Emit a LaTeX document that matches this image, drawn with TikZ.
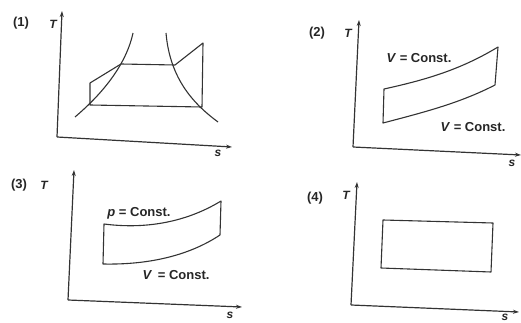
\documentclass[tikz,border=0pt]{standalone}
\usepackage{fontspec}
\setmainfont{Liberation Sans}
\usetikzlibrary{arrows.meta}
\begin{document}
\begin{tikzpicture}[x=1pt,y=-1pt,
  ink/.style={draw=black!80,line width=1.1pt,line join=round},
  axis/.style={draw=black!80,line width=1.2pt,-{Stealth[length=6pt,width=4pt]}},
  lbl/.style={font=\fontsize{13}{14}\selectfont\bfseries,text=black!85,inner sep=0pt},
  num/.style={font=\fontsize{13}{14}\selectfont\bfseries,text=black!85,inner sep=0pt},
  var/.style={font=\fontsize{12}{13}\selectfont\bfseries\itshape,text=black!85,inner sep=0pt}]
\useasboundingbox (0,0) rectangle (521,323);
% ---------- (1)
\node[num] (n1) at (21,23) {(1)};
\node[var] (t1) at (53,24) {T};
\coordinate (o1) at (57,137);
\draw[axis] (o1) -- (62,11);
\draw[axis] (o1) -- (232,147);
\node[var] (s1) at (218,153) {s};
\draw[ink] (75,117) .. controls (95,100) and (125,70) .. (133,33);
\draw[ink] (166,33) .. controls (170,80) and (195,105) .. (218,122);
\draw[ink] (90,105) -- (90,83) -- (121,64) -- (175,65) -- (203,43) -- (202,107) -- cycle;
% ---------- (2)
\node[num] (n2) at (317,33) {(2)};
\node[var] (t2) at (348,33) {T};
\coordinate (o2) at (353,147);
\draw[axis] (o2) -- (359,20);
\draw[axis] (o2) -- (521,155);
\node[var] (s2) at (512,163) {s};
\draw[ink] (383,123) -- (384,89) .. controls (425,80) and (460,70) .. (498,47) -- (495,85)
  .. controls (460,103) and (425,112) .. cycle;
\node[lbl] (v2a) at (419,58) {\textit{V} = Const.};
\node[lbl] (v2b) at (473,127) {\textit{V} = Const.};
% ---------- (3)
\node[num] (n3) at (19,185) {(3)};
\node[var] (t3) at (44,185) {T};
\coordinate (o3) at (68,300);
\draw[axis] (o3) -- (74,170);
\draw[axis] (o3) -- (242,307);
\node[var] (s3) at (230,315) {s};
\draw[ink] (103,264) -- (104,224) .. controls (150,230) and (190,220) .. (221,201) -- (220,235)
  .. controls (190,255) and (150,265) .. cycle;
\node[lbl] (p3) at (139,213) {\textit{p} = Const.};
\node[lbl] (v3) at (176,275) {\textit{V}\, = Const.};
% ---------- (4)
\node[num] (n4) at (315,198) {(4)};
\node[var] (t4) at (346,195) {T};
\coordinate (o4) at (351,305);
\draw[axis] (o4) -- (357,182);
\draw[axis] (o4) -- (519,312);
\node[var] (s4) at (505,317) {s};
\draw[ink] (383,220) -- (493,223) -- (491,272) -- (381,268) -- cycle;
\end{tikzpicture}
\end{document}
